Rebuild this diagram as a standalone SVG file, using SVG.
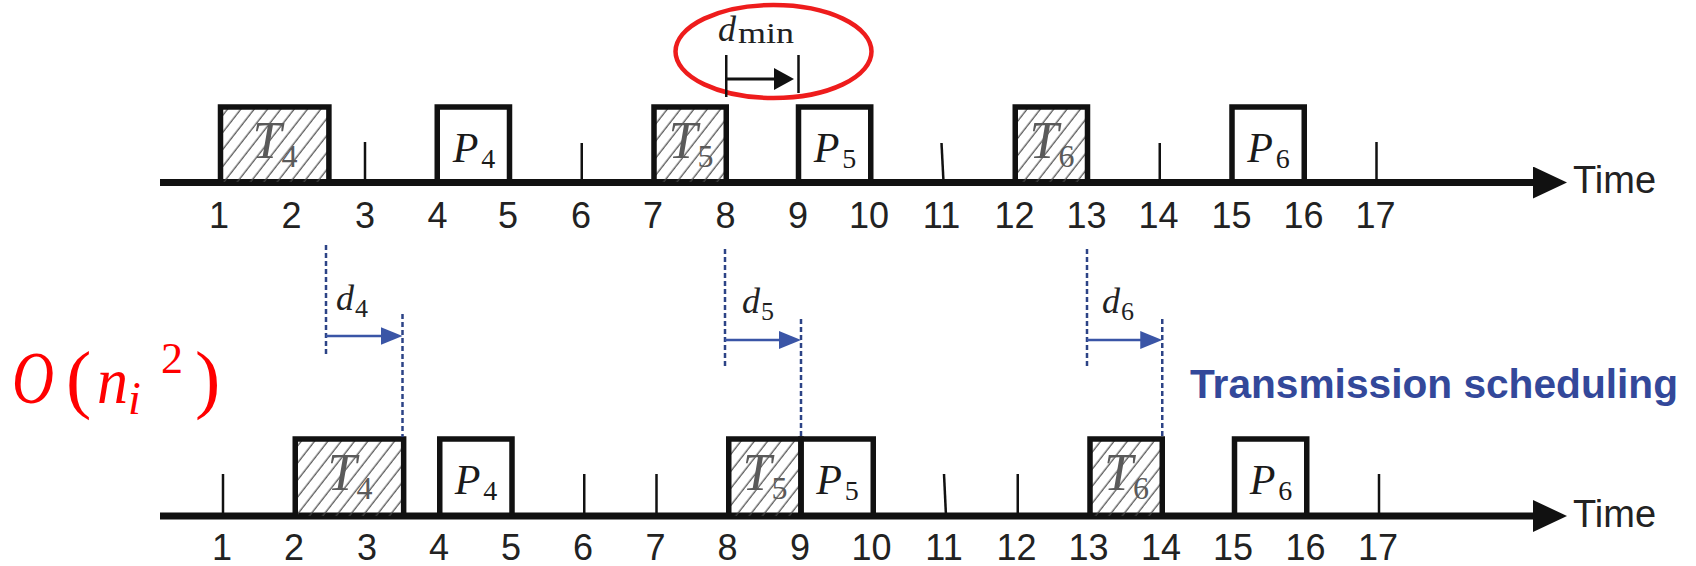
<svg xmlns="http://www.w3.org/2000/svg" width="1696" height="566" viewBox="0 0 1696 566">
<style>
.axis{stroke:#111;stroke-width:7;fill:none}
.tick{stroke:#111;stroke-width:2.5;fill:none}
.box{stroke:#111;stroke-width:5.5;fill:none;stroke-linejoin:miter}
.num{font-family:"Liberation Sans",Arial,sans-serif;font-size:36px;fill:#222;text-anchor:middle}
.time{font-family:"Liberation Sans",Arial,sans-serif;font-size:38px;fill:#222}
.tl{font-family:"Liberation Serif","Times New Roman",serif;font-style:italic;font-size:52px;fill:#5a5a5a;text-anchor:middle}
.pl{font-family:"Liberation Serif","Times New Roman",serif;font-style:italic;font-size:42px;fill:#1a1a1a;text-anchor:middle}
.sub{font-style:normal}
.dl{font-family:"Liberation Serif","Times New Roman",serif;font-style:italic;font-size:36px;fill:#222}
.dash{stroke:#2c4386;stroke-width:2.5;stroke-dasharray:5 3;fill:none}
.barrow{stroke:#3a55a6;stroke-width:2.6;fill:none}
.red{font-family:"Liberation Serif","Times New Roman",serif;fill:#ff0000}
</style>
<defs>
<pattern id="hatch" width="10.5" height="10.5" patternUnits="userSpaceOnUse" patternTransform="rotate(38)">
<line x1="5" y1="-1" x2="5" y2="12" stroke="#444" stroke-width="1.2"/>
</pattern>
<marker id="axhead" markerUnits="userSpaceOnUse" markerWidth="36" markerHeight="34" refX="12" refY="16" orient="auto">
<path d="M0,0 L34,16 L0,32 Z" fill="#111"/>
</marker>
<marker id="bhead" markerUnits="userSpaceOnUse" markerWidth="24" markerHeight="20" refX="14" refY="9" orient="auto">
<path d="M0,0 L22,9 L0,18 Z" fill="#3a55a6"/>
</marker>
<marker id="khead" markerUnits="userSpaceOnUse" markerWidth="24" markerHeight="24" refX="12" refY="11" orient="auto">
<path d="M0,0 L20,11 L0,22 Z" fill="#111"/>
</marker>
</defs>
<rect width="1696" height="566" fill="#fff"/>

<!-- top timeline -->
<g id="timeline-top">
<line class="axis" x1="160" y1="182.5" x2="1545" y2="182.5" marker-end="url(#axhead)"/>
<line class="tick" x1="365" y1="142" x2="365" y2="182"/>
<line class="tick" x1="581.75" y1="143" x2="581.75" y2="182"/>
<line class="tick" x1="941.5" y1="143" x2="943.5" y2="182"/>
<line class="tick" x1="1159.75" y1="143" x2="1159.75" y2="182"/>
<line class="tick" x1="1376.5" y1="142" x2="1376.5" y2="182"/>
<text class="time" x="1573" y="193">Time</text>
<g>
<text class="num" x="219" y="228">1</text>
<text class="num" x="291.5" y="228">2</text>
<text class="num" x="365" y="228">3</text>
<text class="num" x="437.5" y="228">4</text>
<text class="num" x="508" y="228">5</text>
<text class="num" x="581" y="228">6</text>
<text class="num" x="653" y="228">7</text>
<text class="num" x="725.5" y="228">8</text>
<text class="num" x="798" y="228">9</text>
<text class="num" x="869" y="228">10</text>
<text class="num" x="941.5" y="228">11</text>
<text class="num" x="1014.5" y="228">12</text>
<text class="num" x="1086.5" y="228">13</text>
<text class="num" x="1158.5" y="228">14</text>
<text class="num" x="1231.5" y="228">15</text>
<text class="num" x="1303.5" y="228">16</text>
<text class="num" x="1375.5" y="228">17</text>
</g>
</g>

<g id="top-T4">
<rect x="220.5" y="107" width="108.4" height="75" fill="url(#hatch)"/>
<path class="box" d="M220.5,182 V107 H328.9 V182"/>
<text class="tl" x="275" y="158">T<tspan class="sub" font-size="32" dy="9">4</tspan></text>
</g>
<g id="top-P4">
<path class="box" d="M437.25,182 V107 H509.5 V182"/>
<text class="pl" x="474" y="162">P<tspan class="sub" font-size="28" dx="3" dy="6">4</tspan></text>
</g>
<g id="top-T5">
<rect x="654" y="107" width="72.25" height="75" fill="url(#hatch)"/>
<path class="box" d="M654,182 V107 H726.25 V182"/>
<text class="tl" x="691" y="158">T<tspan class="sub" font-size="32" dy="9">5</tspan></text>
</g>
<g id="top-P5">
<path class="box" d="M798.5,182 V107 H870.75 V182"/>
<text class="pl" x="835" y="162">P<tspan class="sub" font-size="28" dx="3" dy="6">5</tspan></text>
</g>
<g id="top-T6">
<rect x="1015.25" y="107" width="72.25" height="75" fill="url(#hatch)"/>
<path class="box" d="M1015.25,182 V107 H1087.5 V182"/>
<text class="tl" x="1052" y="158">T<tspan class="sub" font-size="32" dy="9">6</tspan></text>
</g>
<g id="top-P6">
<path class="box" d="M1232,182 V107 H1304.25 V182"/>
<text class="pl" x="1268.5" y="162">P<tspan class="sub" font-size="28" dx="3" dy="6">6</tspan></text>
</g>

<!-- d_min annotation -->
<g id="dmin">
<ellipse cx="773.5" cy="51.5" rx="98" ry="46.5" fill="none" stroke="#ee1c1c" stroke-width="4.5"/>
<line class="tick" x1="726.25" y1="55" x2="726.25" y2="97" stroke-width="2"/>
<line class="tick" x1="798.5" y1="55" x2="798.5" y2="93" stroke-width="2"/>
<line x1="726.25" y1="79" x2="786" y2="79" stroke="#111" stroke-width="3" marker-end="url(#khead)"/>
<text class="dl" x="718" y="41" font-size="34">d<tspan class="sub" font-size="30" dx="2" dy="2" textLength="56" lengthAdjust="spacingAndGlyphs">min</tspan></text>
</g>

<!-- bottom timeline -->
<g id="timeline-bottom">
<line class="axis" x1="160" y1="516" x2="1545" y2="516" marker-end="url(#axhead)"/>
<line class="tick" x1="223" y1="474" x2="223" y2="516"/>
<line class="tick" x1="584.25" y1="474" x2="584.25" y2="516"/>
<line class="tick" x1="656.5" y1="474" x2="656.5" y2="516"/>
<line class="tick" x1="944" y1="474" x2="946" y2="516"/>
<line class="tick" x1="1017.75" y1="474" x2="1017.75" y2="516"/>
<line class="tick" x1="1379" y1="474" x2="1379" y2="516"/>
<text class="time" x="1573" y="527">Time</text>
<g>
<text class="num" x="222" y="560">1</text>
<text class="num" x="294" y="560">2</text>
<text class="num" x="367" y="560">3</text>
<text class="num" x="439" y="560">4</text>
<text class="num" x="511" y="560">5</text>
<text class="num" x="583" y="560">6</text>
<text class="num" x="655.5" y="560">7</text>
<text class="num" x="727.5" y="560">8</text>
<text class="num" x="800" y="560">9</text>
<text class="num" x="871.5" y="560">10</text>
<text class="num" x="944" y="560">11</text>
<text class="num" x="1016.5" y="560">12</text>
<text class="num" x="1088.5" y="560">13</text>
<text class="num" x="1161" y="560">14</text>
<text class="num" x="1233" y="560">15</text>
<text class="num" x="1305.5" y="560">16</text>
<text class="num" x="1378" y="560">17</text>
</g>
</g>

<g id="bot-T4">
<rect x="295.25" y="439" width="108.4" height="77" fill="url(#hatch)"/>
<path class="box" d="M295.25,516 V439 H403.65 V516"/>
<text class="tl" x="350" y="490">T<tspan class="sub" font-size="32" dy="9">4</tspan></text>
</g>
<g id="bot-P4">
<path class="box" d="M439.75,516 V439 H512 V516"/>
<text class="pl" x="476" y="494">P<tspan class="sub" font-size="28" dx="3" dy="6">4</tspan></text>
</g>
<g id="bot-T5">
<rect x="728.75" y="439" width="72.25" height="77" fill="url(#hatch)"/>
<path class="box" d="M728.75,516 V439 H801 V516"/>
<text class="tl" x="765" y="490">T<tspan class="sub" font-size="32" dy="9">5</tspan></text>
</g>
<g id="bot-P5">
<path class="box" d="M801,516 V439 H873.25 V516"/>
<text class="pl" x="837.5" y="494">P<tspan class="sub" font-size="28" dx="3" dy="6">5</tspan></text>
</g>
<g id="bot-T6">
<rect x="1090" y="439" width="72.25" height="77" fill="url(#hatch)"/>
<path class="box" d="M1090,516 V439 H1162.25 V516"/>
<text class="tl" x="1126.5" y="490">T<tspan class="sub" font-size="32" dy="9">6</tspan></text>
</g>
<g id="bot-P6">
<path class="box" d="M1234.5,516 V439 H1306.75 V516"/>
<text class="pl" x="1271" y="494">P<tspan class="sub" font-size="28" dx="3" dy="6">6</tspan></text>
</g>

<!-- connectors: delay shifts -->
<g id="connectors">
<line class="dash" x1="326" y1="245" x2="326" y2="357"/>
<line class="dash" x1="402.5" y1="314" x2="402.5" y2="437"/>
<line class="barrow" x1="326" y1="336" x2="394.5" y2="336" marker-end="url(#bhead)"/>
<line class="dash" x1="725" y1="249" x2="725" y2="366"/>
<line class="dash" x1="801" y1="319" x2="801" y2="437"/>
<line class="barrow" x1="725" y1="340" x2="793" y2="340" marker-end="url(#bhead)"/>
<line class="dash" x1="1087" y1="249" x2="1087" y2="366"/>
<line class="dash" x1="1162.25" y1="319" x2="1162.25" y2="437"/>
<line class="barrow" x1="1087" y1="340" x2="1154.25" y2="340" marker-end="url(#bhead)"/>
</g>
<g id="delay-labels">
<text class="dl" x="336" y="310">d<tspan class="sub" font-size="26" dx="1" dy="7">4</tspan></text>
<text class="dl" x="742" y="313">d<tspan class="sub" font-size="26" dx="1" dy="7">5</tspan></text>
<text class="dl" x="1102" y="313">d<tspan class="sub" font-size="26" dx="1" dy="7">6</tspan></text>
</g>

<text id="sched-label" x="1190" y="398" font-family="Liberation Sans, Arial, sans-serif" font-weight="bold" font-size="40" fill="#33489a" textLength="488" lengthAdjust="spacingAndGlyphs">Transmission scheduling</text>

<g id="complexity">
<text class="red" x="12" y="403" font-size="74" font-style="italic" textLength="42" lengthAdjust="spacingAndGlyphs">O</text>
<text class="red" x="66" y="404" font-size="76">(</text>
<text class="red" x="97" y="403" font-size="66" font-style="italic" textLength="31" lengthAdjust="spacingAndGlyphs">n</text>
<text class="red" x="128" y="414" font-size="46" font-style="italic">i</text>
<text class="red" x="161" y="373" font-size="44">2</text>
<text class="red" x="195" y="404" font-size="76">)</text>
</g>
</svg>
